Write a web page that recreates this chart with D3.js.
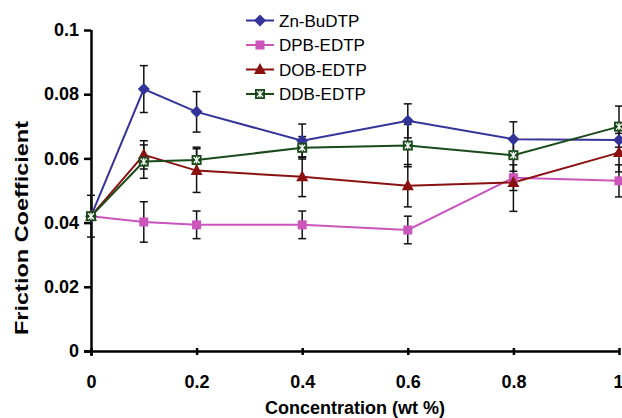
<!DOCTYPE html>
<html>
<head>
<meta charset="utf-8">
<script src="https://cdn.jsdelivr.net/npm/d3@7"></script>
<style>
  body { margin: 0; background: #fff; }
  svg { display: block; font-family: Arial, "Liberation Sans", sans-serif; }
</style>
</head>
<body>
<div id="chart"></div>
<script>
// concentration (wt %) on x, friction coefficient on y
const concentrations = [0, 0.1, 0.2, 0.4, 0.6, 0.8, 1];
const xTicks = [0, 0.2, 0.4, 0.6, 0.8, 1];
const yTicks = [0, 0.02, 0.04, 0.06, 0.08, 0.1];
const seriesNames = ['Zn-BuDTP', 'DPB-EDTP', 'DOB-EDTP', 'DDB-EDTP'];

const znBuDTP = [0.042, 0.0816, 0.0745, 0.0655, 0.0717, 0.066, 0.0657];
const dpbEDTP = [0.042, 0.0402, 0.0393, 0.0393, 0.0377, 0.054, 0.053];
const dobEDTP = [0.042, 0.0611, 0.0562, 0.0543, 0.0515, 0.0525, 0.0618];
const ddbEDTP = [0.042, 0.059, 0.0595, 0.0633, 0.064, 0.061, 0.0699];

// error bar half widths
const znErr = [0.0065, 0.0073, 0.0063, 0.0052, 0.0053, 0.0054, 0.004];
const dpbErr = [0, 0.0063, 0.0043, 0.0043, 0.0043, 0.004, 0.005];
const dobErr = [0, 0.0044, 0.0068, 0.0062, 0.0066, 0.009, 0.006];
const ddbErr = [0, 0.0052, 0.004, 0.0035, 0.0066, 0.005, 0.0064];

const width = 622, height = 418;
const margin = { top: 30, right: 3, bottom: 67, left: 91 };

const series = [
    { name: seriesNames[0], values: znBuDTP, err: znErr, color: '#333399', marker: 'diamond' },
    { name: seriesNames[1], values: dpbEDTP, err: dpbErr, color: '#cc55bb', marker: 'square' },
    { name: seriesNames[2], values: dobEDTP, err: dobErr, color: '#8b1111', marker: 'triangle' },
    { name: seriesNames[3], values: ddbEDTP, err: ddbErr, color: '#1a4a1a', marker: 'cross' }
];

const svg = d3.select('#chart')
    .append('svg')
    .attr('width', width)
    .attr('height', height);

const x = d3.scaleLinear()
    .domain([0, 1])
    .range([margin.left, width - margin.right]);

const y = d3.scaleLinear()
    .domain([0, 0.1])
    .range([height - margin.bottom, margin.top]);

// axes
const xAxis = svg.append('g')
    .attr('transform', `translate(0, ${y(0)})`)
    .call(d3.axisBottom(x).tickValues(xTicks).tickFormat(d3.format('')).tickSize(6).tickPadding(18));

const yAxis = svg.append('g')
    .attr('transform', `translate(${x(0)}, 0)`)
    .call(d3.axisLeft(y).tickValues(yTicks).tickFormat(d3.format('')).tickSize(7).tickPadding(5));

[xAxis, yAxis].forEach(ax => {
    ax.select('.domain').attr('stroke', '#000').attr('stroke-width', 2.5);
    ax.selectAll('.tick line').attr('stroke', '#000').attr('stroke-width', 2.5);
    ax.selectAll('.tick text')
        .attr('fill', '#000')
        .attr('font-size', '18px')
        .attr('font-weight', 'bold')
        .attr('font-family', 'Arial, "Liberation Sans", sans-serif');
});
// x ticks cross the axis line
xAxis.selectAll('.tick line').attr('y1', -3).attr('y2', 4);
// keep the last label inside the picture
xAxis.selectAll('.tick text').filter(d => d === 1).attr('text-anchor', 'end').attr('dx', 4);
yAxis.select('.domain').attr('d', `M0.5,${y(0.1)}V${y(0) + 5}`);
xAxis.select('.domain').attr('d', `M${x(0) - 7},0.5H${x(1)}`);

// axis titles
svg.append('text')
    .attr('x', (x(0) + x(1)) / 2)
    .attr('y', 414)
    .attr('text-anchor', 'middle')
    .attr('font-size', '18px')
    .attr('font-weight', 'bold')
    .text('Concentration (wt %)');

svg.append('text')
    .attr('transform', 'translate(28, 228) rotate(-90)')
    .attr('text-anchor', 'middle')
    .attr('font-size', '18px')
    .attr('font-weight', 'bold')
    .attr('textLength', 214)
    .attr('lengthAdjust', 'spacingAndGlyphs')
    .text('Friction Coefficient');

const plot = svg.append('g');

// error bars
series.forEach(s => {
    const bars = plot.append('g').attr('class', 'errbars');
    concentrations.forEach((c, i) => {
        const e = s.err[i];
        if (!e) return;
        const cx = x(c);
        const yTop = y(s.values[i] + e);
        const yBot = y(s.values[i] - e);
        bars.append('line')
            .attr('x1', cx).attr('x2', cx)
            .attr('y1', yTop).attr('y2', yBot)
            .attr('stroke', '#111').attr('stroke-width', 1.5);
        [yTop, yBot].forEach(yy => {
            bars.append('line')
                .attr('x1', cx - 4).attr('x2', cx + 4)
                .attr('y1', yy).attr('y2', yy)
                .attr('stroke', '#111').attr('stroke-width', 1.5);
        });
    });
});

const line = d3.line()
    .x((d, i) => x(concentrations[i]))
    .y(d => y(d));

series.forEach(s => {
    plot.append('path')
        .datum(s.values)
        .attr('d', line)
        .attr('fill', 'none')
        .attr('stroke', s.color)
        .attr('stroke-width', 2);
});

function drawMarker(g, type, color, cx, cy) {
    if (type === 'diamond') {
        g.append('path')
            .attr('d', `M${cx},${cy - 6}L${cx + 6},${cy}L${cx},${cy + 6}L${cx - 6},${cy}Z`)
            .attr('fill', color);
    } else if (type === 'square') {
        g.append('rect')
            .attr('x', cx - 4.5).attr('y', cy - 4.5)
            .attr('width', 9).attr('height', 9)
            .attr('fill', color);
    } else if (type === 'triangle') {
        g.append('path')
            .attr('d', `M${cx},${cy - 6.5}L${cx + 6},${cy + 4.5}L${cx - 6},${cy + 4.5}Z`)
            .attr('fill', color);
    } else {
        g.append('rect')
            .attr('x', cx - 5).attr('y', cy - 5)
            .attr('width', 10).attr('height', 10)
            .attr('fill', color);
        g.append('path')
            .attr('d', `M${cx - 3},${cy - 3}L${cx + 3},${cy + 3}M${cx + 3},${cy - 3}L${cx - 3},${cy + 3}M${cx},${cy - 3.5}V${cy + 3.5}`)
            .attr('stroke', '#fff')
            .attr('stroke-width', 1.3);
    }
}

series.forEach(s => {
    const g = plot.append('g');
    s.values.forEach((v, i) => drawMarker(g, s.marker, s.color, x(concentrations[i]), y(v)));
});

// legend
const legend = svg.append('g');
series.forEach((s, i) => {
    const ly = 20.5 + i * 24.5;
    legend.append('line')
        .attr('x1', 246).attr('x2', 274)
        .attr('y1', ly).attr('y2', ly)
        .attr('stroke', s.color).attr('stroke-width', 2);
    drawMarker(legend, s.marker, s.color, 260, ly);
    legend.append('text')
        .attr('x', 279)
        .attr('y', ly + 6)
        .attr('font-size', '17px')
        .attr('fill', '#000')
        .text(s.name);
});
</script>
</body>
</html>
